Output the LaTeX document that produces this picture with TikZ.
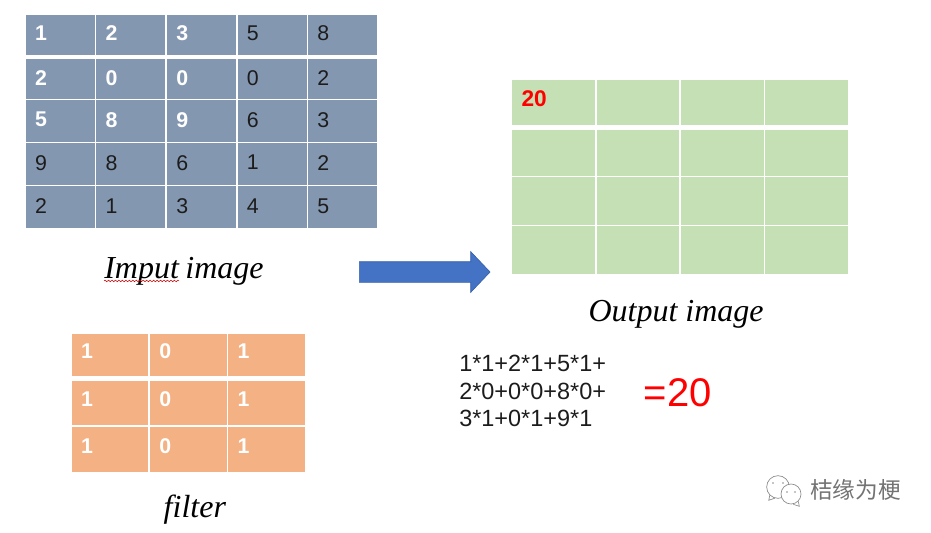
\documentclass[tikz,border=0pt]{standalone}
\usepackage{fontspec}
\setmainfont{Liberation Sans}
\newfontfamily\handfont{Liberation Serif}
\newfontfamily\cjkfont{Noto Sans CJK SC}
\usetikzlibrary{matrix, positioning, shapes.arrows, decorations.pathmorphing}
\definecolor{inputblue}{HTML}{8497B0}
\definecolor{outputgreen}{HTML}{C5E0B4}
\definecolor{filterorange}{HTML}{F4B183}
\definecolor{arrowblue}{HTML}{4472C4}
\definecolor{arrowedge}{HTML}{3A62A8}
\definecolor{digitgray}{HTML}{1C1C1C}
\newcommand{\W}[1]{\textcolor{white}{\textbf{#1}}}
\tikzset{
    gridcell/.style={draw=white, line width=0.45pt, outer sep=0pt, inner xsep=7.5pt,
      inner ysep=0pt, align=left, anchor=center, text=digitgray, font=\fontsize{16}{18}\selectfont},
    grid/.style={matrix of nodes, nodes in empty cells, inner sep=0pt, row sep=0pt,
      column sep=0pt, nodes={gridcell}},
    hand/.style={font=\handfont\itshape\fontsize{24}{26}\selectfont, inner sep=0pt},
    bubble/.style={circle, draw=black!45, fill=white, line width=0.5pt, inner sep=0pt},
    eyedot/.style={circle, fill=black!45, inner sep=0pt, minimum size=1.3pt},
}

\begin{document}
\begin{tikzpicture}[x=0.75pt, y=-0.75pt]
    \useasboundingbox (0,0) rectangle (931,532);

    % input image
    \matrix[grid, anchor=north west, nodes={fill=inputblue, text width=37.5pt, text depth=2pt},
      row 1/.style={nodes={minimum height=30.3pt}},
      row 2/.style={nodes={minimum height=30.3pt}},
      row 3/.style={nodes={minimum height=31.8pt}},
      row 4/.style={nodes={minimum height=31.8pt}},
      row 5/.style={nodes={minimum height=32.15pt}}] (input) at (24.5,14) {
      \W{1} & \W{2} & \W{3} & 5 & 8 \\[2.4pt]
      \W{2} & \W{0} & \W{0} & 0 & 2 \\
      \W{5} & \W{8} & \W{9} & 6 & 3 \\
      9 & 8 & 6 & 1 & 2 \\
      2 & 1 & 3 & 4 & 5 \\
    };

    % output image
    \matrix[grid, anchor=north west, nodes={fill=outputgreen, text width=47.85pt},
      row 1/.style={nodes={minimum height=34.8pt}},
      row 2/.style={nodes={minimum height=35.15pt}},
      row 3/.style={nodes={minimum height=36.3pt}},
      row 4/.style={nodes={minimum height=36.65pt}}] (output) at (511,78.5) {
      \textcolor{red}{\textbf{\fontsize{17}{18}\selectfont 20\rule[-6pt]{0pt}{0pt}}} & & & \\[2.25pt]
      & & & \\
      & & & \\
      & & & \\
    };

    % filter
    \matrix[grid, anchor=north west, nodes={fill=filterorange, text width=43.25pt, text depth=5pt},
      row 1/.style={nodes={minimum height=32.55pt}},
      row 2/.style={nodes={minimum height=34.05pt}},
      row 3/.style={nodes={minimum height=34.8pt}}] (filter) at (70.5,332.5) {
      \W{1} & \W{0} & \W{1} \\[2.25pt]
      \W{1} & \W{0} & \W{1} \\
      \W{1} & \W{0} & \W{1} \\
    };

    \node[single arrow, fill=arrowblue, draw=arrowedge, line width=0.5pt, inner sep=0pt,
      minimum height=98pt, single arrow head extend=7.5pt,
      single arrow tip angle=93, anchor=west] (flow) at (359,272) {\rule{0pt}{15pt}};

    \node[hand, anchor=base west] (imput) at (104,278) {Imput};
    \node[hand, right=4.5pt of imput.base east, anchor=base west] (image) {image};
    \draw[red!80!black, line width=0.4pt, decorate,
      decoration={snake, amplitude=0.6pt, segment length=2.6pt}]
      ([yshift=-2.2pt]imput.base west) -- ([yshift=-2.2pt]imput.base east);

    \node[hand, below=19pt of output.south, xshift=-3pt] (outlabel) {Output image};
    \node[hand, below=16.5pt of filter.south, xshift=5pt] (filterlabel) {filter};

    \node[anchor=north west, inner sep=0pt, align=left, text=digitgray,
      font=\fontsize{17.6}{20.6}\selectfont] (sum) at (459,355)
      {1*1+2*1+5*1+\\2*0+0*0+8*0+\\3*1+0*1+9*1};
    \node[right=28pt of sum, yshift=-1.5pt, inner sep=0pt, text=red, font=\fontsize{30}{32}\selectfont] (result) {=20};

    % watermark
    \node[bubble, minimum size=17pt] (back) at (778,487) {};
    \node[bubble, minimum size=15pt] (front) at (791,494) {};
    \node[eyedot] (b1) at (773,483) {};
    \node[eyedot] (b2) at (783,483) {};
    \node[eyedot] (f1) at (787,492) {};
    \node[eyedot] (f2) at (795,492) {};
    \draw[black!45, line width=0.5pt] (back.south west) -- ++(-1,5) -- ++(6,-2);
    \draw[black!45, line width=0.5pt] (front.south east) -- ++(1,5) -- ++(-6,-2);
    \node[anchor=west, inner sep=0pt, text=black!55, font=\cjkfont\fontsize{17}{19}\selectfont] (brand) at (810,490) {桔缘为梗};
\end{tikzpicture}
\end{document}
